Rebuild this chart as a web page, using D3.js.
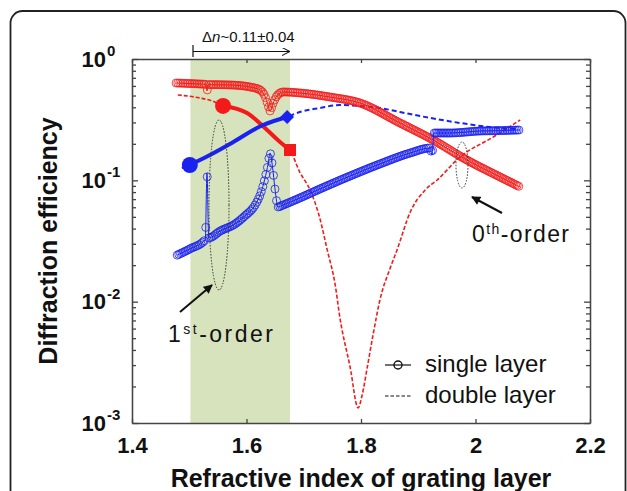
<!DOCTYPE html>
<html>
<head>
<meta charset="utf-8">
<script src="https://cdn.jsdelivr.net/npm/d3@7"></script>
<style>
body { margin: 0; background: #fff; }
svg { display: block; }
text { font-family: "Liberation Sans", Arial, sans-serif; fill: #111; }
</style>
</head>
<body>
<svg id="chart" width="627" height="491"></svg>
<script>
// values (refractive index n, diffraction efficiency)
const nRedSingle   = [1.477, 1.519, 1.529, 1.531, 1.533, 1.571, 1.606, 1.624, 1.632, 1.638, 1.641, 1.646, 1.653, 1.664, 1.693, 1.746, 1.798, 1.868, 1.926, 1.985, 2.043, 2.078];
const effRedSingle = [0.634, 0.622, 0.618, 0.545, 0.615, 0.611, 0.588, 0.555, 0.496, 0.410, 0.373, 0.426, 0.496, 0.535, 0.525, 0.486, 0.434, 0.297, 0.215, 0.147, 0.1065, 0.0881];

const nBlueSingle   = [1.479, 1.501, 1.528, 1.531, 1.534, 1.554, 1.580, 1.597, 1.615, 1.625, 1.632, 1.638, 1.641, 1.645, 1.650, 1.655, 1.664, 1.693, 1.728, 1.781, 1.833, 1.886, 1.921, 1.924, 1.9275, 1.955, 2.008, 2.043, 2.078];
const effBlueSingle = [0.0242, 0.0272, 0.0325, 0.1149, 0.0335, 0.0382, 0.0437, 0.0508, 0.0626, 0.0786, 0.1026, 0.139, 0.168, 0.1338, 0.0832, 0.0603, 0.0626, 0.0715, 0.0848, 0.1086, 0.1364, 0.168, 0.1847, 0.1617, 0.2455, 0.2455, 0.255, 0.257, 0.26];

const nRedDouble   = [1.480, 1.519, 1.540, 1.559, 1.601, 1.636, 1.6585, 1.676, 1.693, 1.711, 1.728, 1.741, 1.755, 1.763, 1.781, 1.795, 1.802, 1.811, 1.821, 1.833, 1.851, 1.863, 1.886, 1.912, 1.933, 1.973, 2.031, 2.078];
const effRedDouble = [0.505, 0.477, 0.451, 0.410, 0.359, 0.260, 0.207, 0.1778, 0.117, 0.0832, 0.0489, 0.0267, 0.01369, 0.00746, 0.00289, 0.00133, 0.0017, 0.00289, 0.00531, 0.01032, 0.01894, 0.0267, 0.0548, 0.0832, 0.1006, 0.1557, 0.2276, 0.3143];

const nBlueDouble   = [1.487, 1.501, 1.536, 1.571, 1.629, 1.671, 1.693, 1.728, 1.763, 1.798, 1.833, 1.868, 1.921, 1.973, 2.025, 2.072];
const effBlueDouble = [0.126, 0.1338, 0.1617, 0.1993, 0.2858, 0.3326, 0.3658, 0.3947, 0.4178, 0.41, 0.3947, 0.3658, 0.3265, 0.297, 0.275, 0.265];

// highlighted range and its end markers
const bandN = [1.502, 1.676];
const redMarkN = [1.559, 1.676];
const blueMarkN = [1.501, 1.671];

const xTicks = [1.4, 1.6, 1.8, 2.0, 2.2];
const xTickLabels = ["1.4", "1.6", "1.8", "2", "2.2"];
const yMajor = [1, 0.1, 0.01, 0.001];
const yExp = ["0", "-1", "-2", "-3"];

const red = "#f41a1a", blue = "#1a22f0";

const svg = d3.select("#chart");
const pLeft = 132, pRight = 590, pTop = 59, pBottom = 423;

const x = d3.scaleLinear().domain([1.4, 2.2]).range([pLeft, pRight]);
const y = d3.scaleLog().domain([0.001, 1]).range([pBottom, pTop]);

// outer rounded frame
svg.append("rect")
  .attr("x", 10.5).attr("y", 11).attr("width", 615).attr("height", 520)
  .attr("rx", 12).attr("fill", "none").attr("stroke", "#222").attr("stroke-width", 1.8);

// shaded band
svg.append("rect")
  .attr("x", x(bandN[0])).attr("y", pTop)
  .attr("width", x(bandN[1]) - x(bandN[0])).attr("height", pBottom - pTop)
  .attr("fill", "#d7e3bd");

// axes
const yMinor = [];
[0.001, 0.01, 0.1].forEach(d => { for (let k = 2; k <= 9; k++) yMinor.push(d * k); });

const axisColor = "#444";
function styleAxis(g) {
  g.selectAll("path, line").attr("stroke", axisColor).attr("stroke-width", 1.3);
}
svg.append("g").attr("transform", `translate(${pLeft},0)`)
  .call(d3.axisLeft(y).tickValues(yMinor).tickSizeInner(-4).tickSizeOuter(0).tickFormat(""))
  .call(styleAxis);
svg.append("g").attr("transform", `translate(${pLeft},0)`)
  .call(d3.axisLeft(y).tickValues(yMajor).tickSizeInner(-6).tickSizeOuter(0).tickFormat(""))
  .call(styleAxis);
svg.append("g").attr("transform", `translate(${pRight},0)`)
  .call(d3.axisRight(y).tickValues(yMinor).tickSizeInner(-4).tickSizeOuter(0).tickFormat(""))
  .call(styleAxis);
svg.append("g").attr("transform", `translate(${pRight},0)`)
  .call(d3.axisRight(y).tickValues(yMajor).tickSizeInner(-6).tickSizeOuter(0).tickFormat(""))
  .call(styleAxis);
svg.append("g").attr("transform", `translate(0,${pTop})`)
  .call(d3.axisTop(x).tickValues(xTicks).tickSizeInner(-4).tickSizeOuter(0).tickFormat(""))
  .call(styleAxis);
const xAxis = svg.append("g").attr("transform", `translate(0,${pBottom})`)
  .call(d3.axisBottom(x).tickValues(xTicks).tickSizeInner(-4).tickSizeOuter(0).tickPadding(14)
    .tickFormat((d, i) => xTickLabels[i]))
  .call(styleAxis);
xAxis.select(".domain").attr("stroke-width", 1.6);
xAxis.selectAll("text").attr("font-size", 22).attr("font-weight", "bold")
  .attr("font-family", "'Liberation Sans', Arial, sans-serif").attr("fill", "#111");

// y tick labels as 10^k
yMajor.forEach((v, i) => {
  svg.append("text").attr("x", 106).attr("y", y(v) + 7.5)
    .attr("text-anchor", "end").attr("font-size", 22).attr("font-weight", "bold").text("10");
  svg.append("text").attr("x", 107).attr("y", y(v) - 3)
    .attr("font-size", 15).attr("font-weight", "bold").text(yExp[i]);
});

// axis titles
svg.append("text").attr("x", (pLeft + pRight) / 2).attr("y", 487)
  .attr("text-anchor", "middle").attr("font-size", 25).attr("font-weight", "bold")
  .text("Refractive index of grating layer");
svg.append("text").attr("transform", `translate(57,${(pTop + pBottom) / 2}) rotate(-90)`)
  .attr("text-anchor", "middle").attr("font-size", 25).attr("font-weight", "bold")
  .text("Diffraction efficiency");

const line = d3.line().x(d => x(d[0])).y(d => y(d[1])).curve(d3.curveMonotoneX);
const zip = (a, b) => a.map((v, i) => [v, b[i]]);

const redSingle = zip(nRedSingle, effRedSingle);
const blueSingle = zip(nBlueSingle, effBlueSingle);
const redDouble = zip(nRedDouble, effRedDouble);
const blueDouble = zip(nBlueDouble, effBlueDouble);

// double layer: dashed
svg.append("path").attr("d", line(redDouble)).attr("fill", "none")
  .attr("stroke", red).attr("stroke-width", 1.6).attr("stroke-dasharray", "4,2");
svg.append("path").attr("d", line(blueDouble)).attr("fill", "none")
  .attr("stroke", blue).attr("stroke-width", 2).attr("stroke-dasharray", "5,3");

// single layer: thin line + open circles, sampled evenly along n
function drawSingle(data, color) {
  const p = svg.append("path").attr("d", line(data)).attr("fill", "none")
    .attr("stroke", color).attr("stroke-width", 1);
  const node = p.node();
  const len = node.getTotalLength();
  const pts = [];
  let nextX = -Infinity;
  for (let s = 0; s <= len; s += 0.25) {
    const q = node.getPointAtLength(s);
    if (q.x >= nextX) { pts.push(q); nextX = q.x + 1.5; }
  }
  svg.append("g").selectAll("circle").data(pts).join("circle")
    .attr("cx", d => d.x).attr("cy", d => d.y).attr("r", 4)
    .attr("fill", "none").attr("stroke", color).attr("stroke-width", 0.8);
}
drawSingle(redSingle, red);
drawSingle(blueSingle, blue);

// thick segments between the big markers
const redSeg = redDouble.filter(d => d[0] >= redMarkN[0] && d[0] <= redMarkN[1]);
const blueSeg = blueDouble.filter(d => d[0] >= blueMarkN[0] && d[0] <= blueMarkN[1]);
svg.append("path").attr("d", line(redSeg)).attr("fill", "none").attr("stroke", red).attr("stroke-width", 4);
svg.append("path").attr("d", line(blueSeg)).attr("fill", "none").attr("stroke", blue).attr("stroke-width", 4);

function marker(seg, idx, type, size, rot, color) {
  const d = seg[idx];
  svg.append("path").attr("d", d3.symbol().type(type).size(size)())
    .attr("transform", `translate(${x(d[0])},${y(d[1])}) rotate(${rot})`)
    .attr("fill", color);
}
marker(redSeg, 0, d3.symbolCircle, 200, 0, red);
marker(redSeg, redSeg.length - 1, d3.symbolSquare, 144, 0, red);
marker(blueSeg, 0, d3.symbolCircle, 200, 0, blue);
marker(blueSeg, blueSeg.length - 1, d3.symbolSquare, 95, 45, blue);

// dotted ellipses grouping the orders
svg.append("ellipse").attr("cx", 219).attr("cy", 205).attr("rx", 10).attr("ry", 85)
  .attr("fill", "none").attr("stroke", "#333").attr("stroke-width", 1).attr("stroke-dasharray", "1.5,1.5");
svg.append("ellipse").attr("cx", 462).attr("cy", 165).attr("rx", 6).attr("ry", 23)
  .attr("fill", "none").attr("stroke", "#333").attr("stroke-width", 1).attr("stroke-dasharray", "1.5,1.5");

// arrows
const defs = svg.append("defs");
defs.append("marker").attr("id", "head").attr("viewBox", "0 0 10 10")
  .attr("refX", 9).attr("refY", 5).attr("markerWidth", 10).attr("markerHeight", 9)
  .attr("markerUnits", "userSpaceOnUse").attr("orient", "auto")
  .append("path").attr("d", "M0,0L10,5L0,10Z").attr("fill", "#111");
defs.append("marker").attr("id", "open").attr("viewBox", "0 0 10 10")
  .attr("refX", 10).attr("refY", 5).attr("markerWidth", 8).attr("markerHeight", 8)
  .attr("markerUnits", "userSpaceOnUse").attr("orient", "auto")
  .append("path").attr("d", "M0,0L10,5L0,10").attr("fill", "none").attr("stroke", "#111").attr("stroke-width", 1.3);

svg.append("line").attr("x1", 502).attr("y1", 213).attr("x2", 472).attr("y2", 197)
  .attr("stroke", "#111").attr("stroke-width", 2).attr("marker-end", "url(#head)");
svg.append("line").attr("x1", 180).attr("y1", 312).attr("x2", 212).attr("y2", 285)
  .attr("stroke", "#111").attr("stroke-width", 2).attr("marker-end", "url(#head)");

// delta n bracket
svg.append("line").attr("x1", 193).attr("y1", 45).attr("x2", 193).attr("y2", 57)
  .attr("stroke", "#111").attr("stroke-width", 1.2);
svg.append("line").attr("x1", 193).attr("y1", 51.5).attr("x2", 290).attr("y2", 51.5)
  .attr("stroke", "#111").attr("stroke-width", 1.2).attr("marker-end", "url(#open)");
const dn = svg.append("text").attr("x", 202).attr("y", 42)
  .attr("font-family", "'Liberation Serif', 'Times New Roman', serif").attr("font-size", 15);
dn.append("tspan").text("\u0394");
dn.append("tspan").attr("font-style", "italic").text("n");
dn.append("tspan").text("~0.11\u00b10.04");

// order labels
function orderLabel(xp, yp, a, sup, width) {
  const t = svg.append("text").attr("x", xp).attr("y", yp)
    .attr("font-family", "'DejaVu Sans', Verdana, sans-serif").attr("font-size", 23)
    .attr("textLength", width);
  t.append("tspan").text(a);
  t.append("tspan").attr("font-size", 14).attr("dy", -8).text(sup);
  t.append("tspan").attr("dy", 8).text("-order");
}
orderLabel(472, 242, "0", "th", 97);
orderLabel(168, 342, "1", "st", 105);

// legend
const lg = svg.append("g");
lg.append("line").attr("x1", 385).attr("x2", 411).attr("y1", 365).attr("y2", 365)
  .attr("stroke", "#111").attr("stroke-width", 1.2);
lg.append("circle").attr("cx", 398).attr("cy", 365).attr("r", 4)
  .attr("fill", "none").attr("stroke", "#111").attr("stroke-width", 1.4);
lg.append("line").attr("x1", 385).attr("x2", 411).attr("y1", 396).attr("y2", 396)
  .attr("stroke", "#111").attr("stroke-width", 1.2).attr("stroke-dasharray", "3.5,2");
lg.append("text").attr("x", 425).attr("y", 372)
  .attr("font-family", "'DejaVu Sans', Verdana, sans-serif").attr("font-size", 24).text("single layer");
lg.append("text").attr("x", 425).attr("y", 403)
  .attr("font-family", "'DejaVu Sans', Verdana, sans-serif").attr("font-size", 24).text("double layer");
</script>
</body>
</html>
